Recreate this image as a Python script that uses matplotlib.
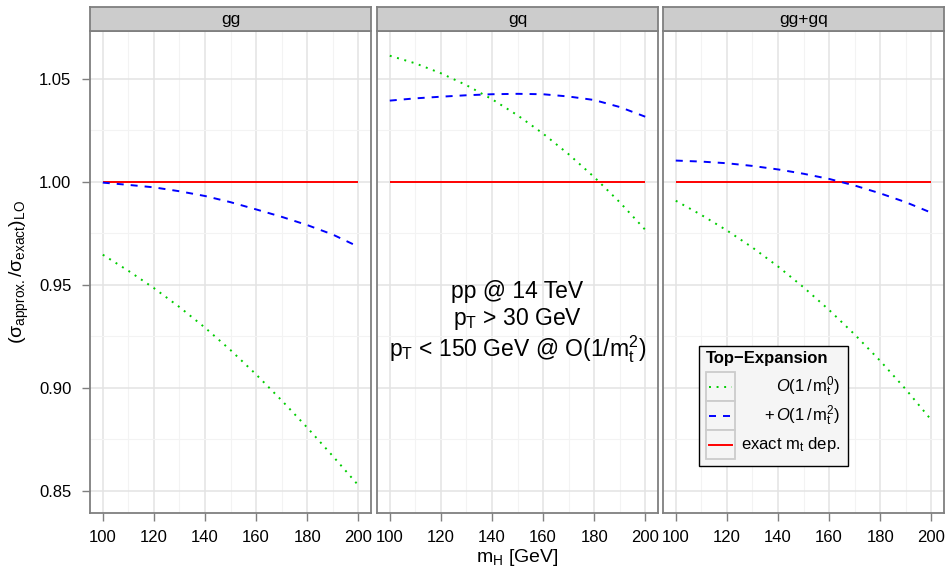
import matplotlib
matplotlib.use("Agg")
import matplotlib.pyplot as plt
from matplotlib.patches import Rectangle
from matplotlib.lines import Line2D

plt.rcParams['font.family'] = ['Liberation Sans', 'DejaVu Sans']
plt.rcParams['mathtext.fontset'] = 'custom'
plt.rcParams['mathtext.rm'] = 'Liberation Sans'
plt.rcParams['mathtext.it'] = 'Liberation Sans:italic'
plt.rcParams['mathtext.bf'] = 'Liberation Sans:bold'
plt.rcParams['mathtext.sf'] = 'Liberation Sans'

# ---------------- data ----------------
mH = [100, 110, 120, 130, 140, 150, 160, 170, 180, 190, 200]
panels = ["gg", "gq", "gg+gq"]

gg_o0 = [0.9647, 0.9569, 0.9485, 0.9393, 0.9293, 0.9184, 0.9066, 0.8940, 0.8808, 0.8670, 0.8528]
gg_o2 = [0.9997, 0.9986, 0.9974, 0.9955, 0.9932, 0.9902, 0.9867, 0.9831, 0.9791, 0.9745, 0.9686]
gq_o0 = [1.0613, 1.0576, 1.0528, 1.0470, 1.0402, 1.0324, 1.0235, 1.0135, 1.0024, 0.9902, 0.9768]
gq_o2 = [1.0395, 1.0406, 1.0414, 1.0421, 1.0426, 1.0428, 1.0426, 1.0415, 1.0398, 1.0364, 1.0317]
sum_o0 = [0.9909, 0.9840, 0.9765, 0.9682, 0.9590, 0.9489, 0.9379, 0.9260, 0.9132, 0.8994, 0.8845]
sum_o2 = [1.0104, 1.0099, 1.0091, 1.0078, 1.0061, 1.0040, 1.0015, 0.9983, 0.9945, 0.9902, 0.9851]
exact = [1.0] * len(mH)

series_o0 = [gg_o0, gq_o0, sum_o0]
series_o2 = [gg_o2, gq_o2, sum_o2]

xticks = [100, 120, 140, 160, 180, 200]
yticks = [0.85, 0.90, 0.95, 1.00, 1.05]
ytick_labels = ["0.85", "0.90", "0.95", "1.00", "1.05"]

legend_title = "Top\u2212Expansion"
legend_labels = [r"$O(1\,/\,\mathrm{m}_\mathrm{t}^0)$",
                 r"$+\,O(1\,/\,\mathrm{m}_\mathrm{t}^2)$",
                 r"exact m$_\mathrm{t}$ dep."]
annotation = ["pp @ 14 TeV",
              r"p$_\mathrm{T}$ > 30 GeV",
              r"p$_\mathrm{T}$ < 150 GeV @ O(1/m$_\mathrm{t}^2$)"]

GREEN = "#00CD00"
BLUE = "#0000FF"
RED = "#FF0000"
BORDER = "#7F7F7F"

W, H = 946, 571
fig = plt.figure(figsize=(W / 100, H / 100), dpi=100)

def fx(px):
    return px / W

def fy(py):
    return 1 - py / H

panel_left = [90, 377, 663]
panel_w = 281
top, bottom = 31, 513
strip_top = 7

LW = 1.4
dotted = (0, (1, 2.9))
dashed = (0, (3.6, 3.6))

for i, name in enumerate(panels):
    L = panel_left[i]
    ax = fig.add_axes([fx(L), fy(bottom), fx(panel_w), (bottom - top) / H])
    ax.set_xlim(95, 205)
    ax.set_ylim(0.8393, 1.0733)
    ax.set_xticks(xticks)
    ax.set_xticks([110, 130, 150, 170, 190], minor=True)
    ax.set_yticks(yticks)
    ax.set_yticks([0.875, 0.925, 0.975, 1.025], minor=True)
    ax.grid(True, which='major', color='#E3E3E3', lw=1.1)
    ax.grid(True, which='minor', color='#F3F3F3', lw=0.8)
    ax.set_axisbelow(True)
    for sp in ax.spines.values():
        sp.set_color(BORDER)
        sp.set_linewidth(1.3)
    ax.tick_params(which='major', direction='out', length=5.5, width=1.0,
                   color=BORDER, labelsize=12, pad=6.5)
    ax.tick_params(axis='y', which='major', pad=8)
    ax.tick_params(which='minor', length=0)
    if i == 0:
        ax.set_yticklabels(ytick_labels)
    else:
        ax.tick_params(axis='y', which='major', length=0, labelleft=False)

    ax.plot(mH, exact, color=RED, lw=LW, solid_capstyle='butt')
    ax.plot(mH, series_o2[i], color=BLUE, lw=LW, linestyle=dashed)
    ax.plot(mH, series_o0[i], color=GREEN, lw=LW, linestyle=dotted)

    # strip
    sax = fig.add_axes([fx(L), fy(top), fx(panel_w), (top - strip_top) / H])
    sax.set_facecolor('#CCCCCC')
    sax.set_xticks([])
    sax.set_yticks([])
    for sp in sax.spines.values():
        sp.set_color(BORDER)
        sp.set_linewidth(1.3)
    sax.text(0.5, 0.47, name, ha='center', va='center', fontsize=12.5,
             transform=sax.transAxes)

    if i == 1:
        for txt, yv in zip(annotation, [0.9470, 0.9335, 0.9190]):
            ax.text(150, yv, txt, ha='center', va='center', fontsize=16.5)

# axis titles
fig.text(fx(517), fy(557), r"m$_\mathrm{H}$ [GeV]", ha='center', va='center', fontsize=14)
fig.text(fx(19), fy(272),
         r"$(\mathrm{\sigma}_{\mathrm{approx.}}/\mathrm{\sigma}_{\mathrm{exact}})_{\mathrm{LO}}$",
         ha='center', va='center', rotation=90, fontsize=14)

# legend drawn as a box in pixel coordinates
lax = fig.add_axes([0, 0, 1, 1], facecolor='none')
lax.set_xlim(0, W)
lax.set_ylim(H, 0)
lax.axis('off')
lax.add_patch(Rectangle((699, 346), 149, 120, facecolor='#F5F5F5',
                        edgecolor='black', lw=1.0))
lax.text(706, 358, legend_title, fontsize=12, fontweight='bold', ha='left', va='center')
styles = [dict(color=GREEN, linestyle=dotted), dict(color=BLUE, linestyle=dashed),
          dict(color=RED, linestyle='-')]
row_top = 372
row_h = 29
for k in range(3):
    y0 = row_top + k * row_h
    lax.add_patch(Rectangle((706, y0), 29, row_h, facecolor='#F5F5F5',
                            edgecolor='#CCCCCC', lw=1.3))
    lax.add_line(Line2D([709, 732], [y0 + row_h / 2, y0 + row_h / 2], lw=LW, **styles[k]))
    lax.text(840, y0 + row_h / 2, legend_labels[k], fontsize=12, ha='right', va='center')

fig.savefig("out.png", dpi=100)
